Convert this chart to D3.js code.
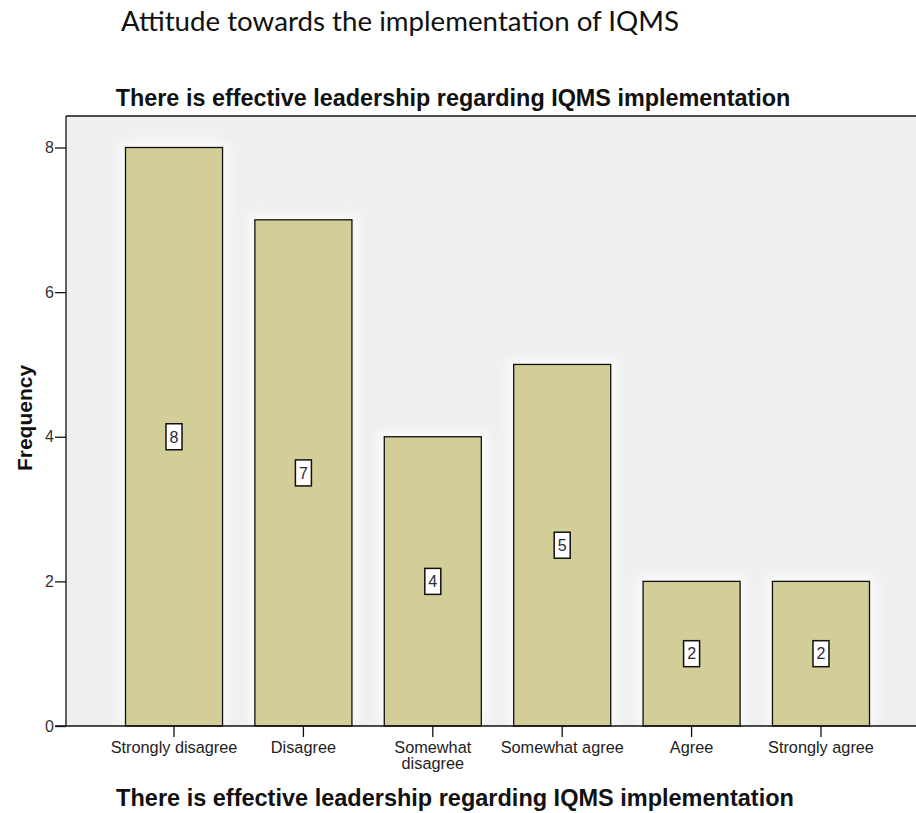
<!DOCTYPE html>
<html>
<head>
<meta charset="utf-8">
<script src="https://cdn.jsdelivr.net/npm/d3@7"></script>
<style>
  html, body { margin: 0; padding: 0; background: #ffffff; }
  svg { display: block; }
</style>
</head>
<body>
<svg id="chart" width="916" height="813"></svg>
<script>
// Responses to "There is effective leadership regarding IQMS implementation"
const categories = ["Strongly disagree", "Disagree", "Somewhat disagree", "Somewhat agree", "Agree", "Strongly agree"];
const categoryLines = [["Strongly disagree"], ["Disagree"], ["Somewhat", "disagree"], ["Somewhat agree"], ["Agree"], ["Strongly agree"]];
const frequencies = [8, 7, 4, 5, 2, 2];
const yTicks = [0, 2, 4, 6, 8];

const pageHeading = "Attitude towards the implementation of IQMS";
const chartTitle = "There is effective leadership regarding IQMS implementation";
const xTitle = "There is effective leadership regarding IQMS implementation";
const yTitle = "Frequency";

const svg = d3.select("#chart");
const sans = "Arial, 'Liberation Sans', sans-serif";

const frame = { left: 66, top: 116, right: 940, bottom: 726 };

const x = d3.scaleBand()
  .domain(categories)
  .range([125.5, 869.5])
  .paddingInner(0.25)
  .paddingOuter(0);

const y = d3.scaleLinear()
  .domain([0, 8])
  .range([frame.bottom, 147.5]);

// Page heading
svg.append("text")
  .attr("x", 121).attr("y", 31)
  .attr("font-family", "Lato, 'Open Sans', sans-serif")
  .attr("font-size", 26)
  .attr("fill", "#111")
  .attr("textLength", 558)
  .attr("lengthAdjust", "spacingAndGlyphs")
  .text(pageHeading);

// Plot background
const defs = svg.append("defs");
const glow = defs.append("filter").attr("id", "halo").attr("x", "-20%").attr("y", "-20%").attr("width", "140%").attr("height", "140%");
glow.append("feGaussianBlur").attr("stdDeviation", 6);

svg.append("rect")
  .attr("x", frame.left).attr("y", frame.top)
  .attr("width", frame.right - frame.left).attr("height", frame.bottom - frame.top)
  .attr("fill", "#efeff0");

// Soft light halo behind each bar
svg.append("g")
  .selectAll("rect")
  .data(frequencies)
  .join("rect")
  .attr("x", (d, i) => x(categories[i]) - 6)
  .attr("y", d => y(d) - 6)
  .attr("width", x.bandwidth() + 12)
  .attr("height", d => frame.bottom - y(d) + 6)
  .attr("fill", "#fbfbfb")
  .attr("filter", "url(#halo)");

// Bars
svg.append("g")
  .selectAll("rect")
  .data(frequencies)
  .join("rect")
  .attr("x", (d, i) => x(categories[i]))
  .attr("y", d => y(d))
  .attr("width", x.bandwidth())
  .attr("height", d => frame.bottom - y(d))
  .attr("fill", "#d3ce97")
  .attr("stroke", "#111")
  .attr("stroke-width", 1.3);

// Value labels inside bars
const labels = svg.append("g")
  .selectAll("g")
  .data(frequencies)
  .join("g")
  .attr("transform", (d, i) => `translate(${x(categories[i]) + x.bandwidth() / 2},${y(d / 2)})`);
labels.append("rect")
  .attr("x", -8).attr("y", -13)
  .attr("width", 16).attr("height", 26)
  .attr("fill", "#ffffff")
  .attr("stroke", "#111")
  .attr("stroke-width", 1.5);
labels.append("text")
  .attr("text-anchor", "middle")
  .attr("dy", "0.36em")
  .attr("font-family", sans)
  .attr("font-size", 16)
  .attr("fill", "#2a2a3a")
  .text(d => d);

// Frame top line
svg.append("line")
  .attr("x1", frame.left).attr("x2", frame.right)
  .attr("y1", frame.top).attr("y2", frame.top)
  .attr("stroke", "#111").attr("stroke-width", 1.3);

// Y axis
const yAxis = svg.append("g")
  .attr("transform", `translate(${frame.left},0)`)
  .call(d3.axisLeft(y).tickValues(yTicks).tickSize(11).tickPadding(1).tickSizeOuter(0));
yAxis.select(".domain").attr("d", `M0,${frame.top}V${frame.bottom}`).attr("stroke", "#111").attr("stroke-width", 1.3);
yAxis.selectAll(".tick line").attr("stroke", "#111").attr("stroke-width", 1.3);
yAxis.selectAll(".tick text")
  .attr("font-family", sans)
  .attr("font-size", 16)
  .attr("fill", "#333");

// X axis
const xAxis = svg.append("g")
  .attr("transform", `translate(0,${frame.bottom})`)
  .call(d3.axisBottom(x).tickSize(11).tickSizeOuter(0).tickFormat(""));
xAxis.select(".domain").attr("d", `M${frame.left - 11},0H${frame.right}`).attr("stroke", "#111").attr("stroke-width", 1.3);
xAxis.selectAll(".tick line").attr("stroke", "#111").attr("stroke-width", 1.3);
xAxis.selectAll(".tick").each(function(d, i) {
  const t = d3.select(this).append("text")
    .attr("text-anchor", "middle")
    .attr("font-family", sans)
    .attr("font-size", 16.3)
    .attr("fill", "#222")
    .attr("y", 27);
  categoryLines[i].forEach((line, j) => {
    t.append("tspan").attr("x", 0).attr("dy", j === 0 ? 0 : 15.5).text(line);
  });
});

// Chart title
svg.append("text")
  .attr("x", 453).attr("y", 106)
  .attr("text-anchor", "middle")
  .attr("font-family", sans)
  .attr("font-weight", "bold")
  .attr("font-size", 23.4)
  .attr("fill", "#111")
  .text(chartTitle);

// X axis title
svg.append("text")
  .attr("x", 455).attr("y", 806)
  .attr("text-anchor", "middle")
  .attr("font-family", sans)
  .attr("font-weight", "bold")
  .attr("font-size", 23.5)
  .attr("fill", "#111")
  .text(xTitle);

// Y axis title
svg.append("text")
  .attr("transform", "translate(32,418) rotate(-90)")
  .attr("text-anchor", "middle")
  .attr("font-family", sans)
  .attr("font-weight", "bold")
  .attr("font-size", 21)
  .attr("fill", "#111")
  .text(yTitle);
</script>
</body>
</html>
